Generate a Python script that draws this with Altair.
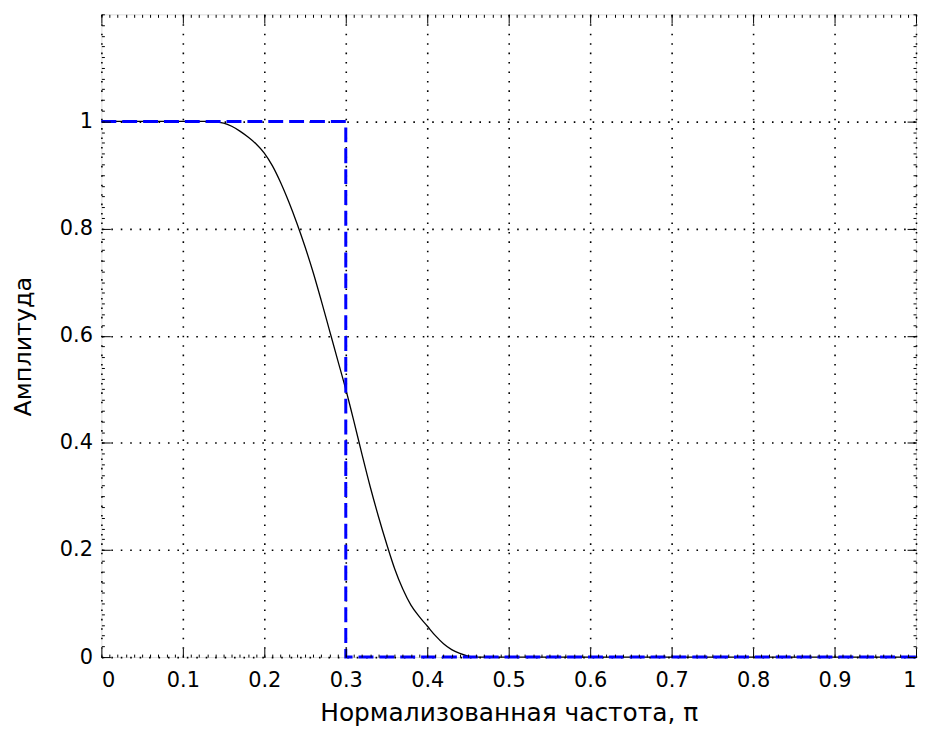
import altair as alt
import pandas as pd

curve_f = [0.00, 0.10, 0.13, 0.14, 0.15, 0.16, 0.17, 0.18, 0.19, 0.20, 0.21, 0.22, 0.23,
           0.24, 0.25, 0.26, 0.27, 0.28, 0.29, 0.30, 0.31, 0.32, 0.33, 0.34, 0.35, 0.36,
           0.37, 0.38, 0.39, 0.40, 0.41, 0.42, 0.43, 0.44, 0.45, 0.46, 1.00]
curve_a = [1.000, 1.000, 1.000, 0.999, 0.997, 0.991, 0.982, 0.971, 0.958, 0.941, 0.917,
           0.886, 0.850, 0.810, 0.766, 0.718, 0.665, 0.610, 0.555, 0.500, 0.440, 0.378,
           0.318, 0.263, 0.212, 0.165, 0.127, 0.097, 0.076, 0.058, 0.040, 0.025, 0.014,
           0.007, 0.002, 0.000, 0.000]

# Blue dashed: ideal low-pass response
ideal_f = [0.0, 0.3, 0.3, 1.0]
ideal_a = [1.0, 1.0, 0.0, 0.0]

x_major = [0, 0.1, 0.2, 0.3, 0.4, 0.5, 0.6, 0.7, 0.8, 0.9, 1]
y_major = [0, 0.2, 0.4, 0.6, 0.8, 1]
x_minor = [round(i * 0.01, 2) for i in range(101)]
y_minor = [round(i * 0.02, 2) for i in range(61)]

x_title = "Нормализованная частота, π"
y_title = "Амплитуда"

curve_df = pd.DataFrame({"f": curve_f, "a": curve_a, "i": range(len(curve_f))})
ideal_df = pd.DataFrame({"f": ideal_f, "a": ideal_a, "i": range(len(ideal_f))})

FONT = "DejaVu Sans"
xs = alt.Scale(domain=[0, 1], nice=False, zero=False)
ys = alt.Scale(domain=[0, 1.2], nice=False, zero=False)

# Main layer: labels, titles, dotted grid
main_x = alt.Axis(values=x_major, format="~g", orient="bottom", grid=True, gridDash=[1.6, 7.9],
                  gridColor="black", gridWidth=1.6, gridOpacity=1, ticks=False, domain=False,
                  labelFont=FONT, labelFontSize=21, labelColor="black", labelPadding=13,
                  title=x_title, titleFont=FONT, titleFontSize=25, titleFontWeight="normal",
                  titleColor="black", titleY=64, titleBaseline="alphabetic")
main_y = alt.Axis(values=y_major, format="~g", orient="left", grid=True, gridDash=[1.6, 7.9],
                  gridColor="black", gridWidth=1.6, gridOpacity=1, ticks=False, domain=False,
                  labelFont=FONT, labelFontSize=21, labelColor="black", labelPadding=9,
                  title=y_title, titleFont=FONT, titleFontSize=24, titleFontWeight="normal",
                  titleColor="black", titleX=-71, titleY=334, titleBaseline="alphabetic",
                  titleAngle=270, titleAlign="center")

curve = alt.Chart(curve_df).mark_line(color="black", strokeWidth=1.3, interpolate="monotone").encode(
    x=alt.X("f:Q", scale=xs, axis=main_x),
    y=alt.Y("a:Q", scale=ys, axis=main_y),
    order="i:Q",
)

def tick_axis(values, orient, size):
    return alt.Axis(values=values, orient=orient, labels=False, grid=False, domain=False,
                    ticks=True, tickColor="black", tickWidth=1, tickSize={"expr": str(-size)},
                    title=None, zindex=1)

def tick_layer(xvals, yvals, xo, yo, size):
    return alt.Chart(curve_df).mark_line(opacity=0).encode(
        x=alt.X("f:Q", scale=xs, axis=tick_axis(xvals, xo, size)),
        y=alt.Y("a:Q", scale=ys, axis=tick_axis(yvals, yo, size)),
        order="i:Q",
    )

ideal = alt.Chart(ideal_df).mark_line(color="#0000FF", strokeWidth=3, strokeDash=[15, 6]).encode(
    x=alt.X("f:Q", scale=xs, axis=tick_axis(x_major, "bottom", 9)),
    y=alt.Y("a:Q", scale=ys, axis=tick_axis(y_major, "left", 9)),
    order="i:Q",
)

chart = alt.layer(
    curve,
    tick_layer(x_major, y_major, "top", "right", 9),
    tick_layer(x_minor, y_minor, "bottom", "left", 3),
    tick_layer(x_minor, y_minor, "top", "right", 3),
    ideal,
).resolve_axis(x="independent", y="independent").properties(
    width=820, height=647,
    autosize=alt.AutoSizeParams(type="none"),
    padding={"left": 94, "top": 4, "right": 2, "bottom": 68},
).configure_view(stroke="black", strokeWidth=1.5).configure(background="white")

chart.save("out.html", embed_options={"renderer": "svg", "actions": False})
